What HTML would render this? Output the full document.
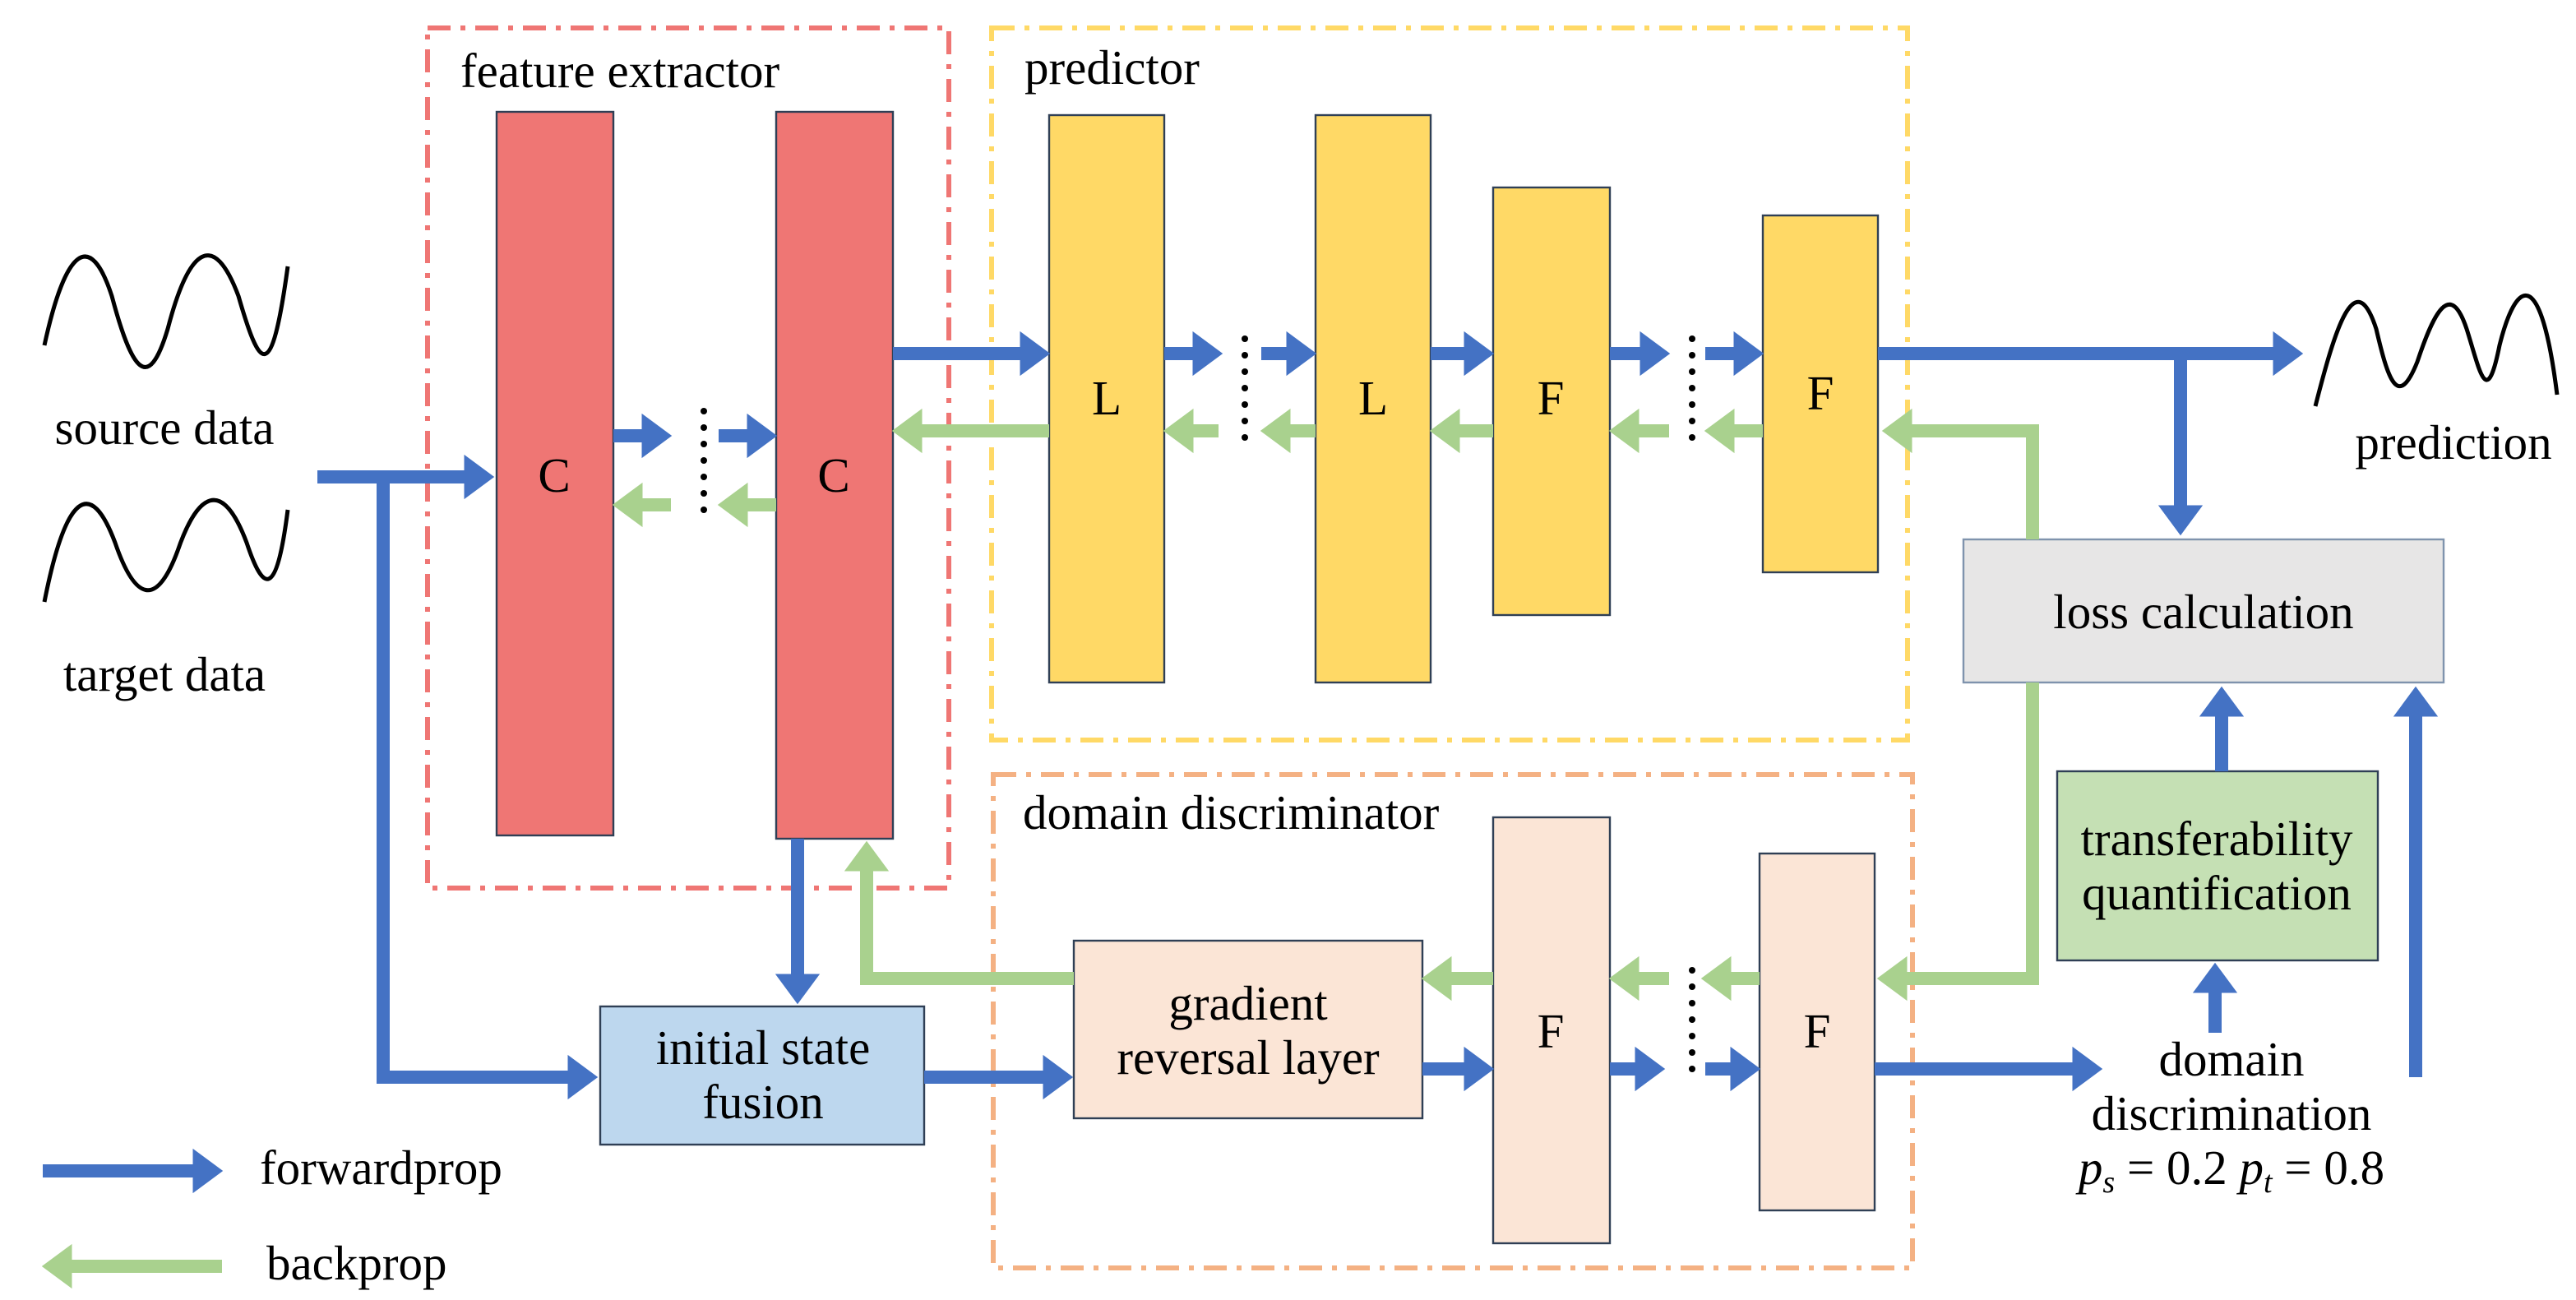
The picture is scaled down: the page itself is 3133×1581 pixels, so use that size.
<!DOCTYPE html>
<html><head><meta charset="utf-8"><style>
html,body{margin:0;padding:0;background:#fff;}
svg{display:block;}
text{font-family:"Liberation Serif",serif;font-size:29.5px;fill:#000;}
</style></head><body>
<svg width="3133" height="1581" viewBox="0 0 1566.5 790.5" xmlns="http://www.w3.org/2000/svg">
<defs>
<marker id="b" markerWidth="4" markerHeight="4" refX="0.6" refY="2" orient="auto" markerUnits="strokeWidth"><path d="M0,0.3 L2.3,2 L0,3.7 z" fill="#4472c4"/></marker>
<marker id="g" markerWidth="4" markerHeight="4" refX="0.6" refY="2" orient="auto" markerUnits="strokeWidth"><path d="M0,0.3 L2.3,2 L0,3.7 z" fill="#a9d18e"/></marker>
</defs>
<rect x="260" y="17" width="317" height="523" fill="none" stroke="#ef7674" stroke-width="3" stroke-dasharray="14,6,3,6"/>
<rect x="603" y="17" width="557" height="433" fill="none" stroke="#ffd966" stroke-width="3" stroke-dasharray="14,6,3,6"/>
<rect x="604" y="471" width="559" height="300" fill="none" stroke="#f4b183" stroke-width="3" stroke-dasharray="14,6,3,6"/>
<text x="280" y="53">feature extractor</text>
<text x="623" y="51">predictor</text>
<text x="622" y="504">domain discriminator</text>

<g stroke="#2f3f55" stroke-width="1.2">
<rect x="302" y="68" width="71" height="440" fill="#ef7674"/>
<rect x="472" y="68" width="71" height="442" fill="#ef7674"/>
<rect x="638" y="70" width="70" height="345" fill="#ffd966"/>
<rect x="800" y="70" width="70" height="345" fill="#ffd966"/>
<rect x="908" y="114" width="71" height="260" fill="#ffd966"/>
<rect x="1072" y="131" width="70" height="217" fill="#ffd966"/>
<rect x="653" y="572" width="212" height="108" fill="#fbe5d6"/>
<rect x="908" y="497" width="71" height="259" fill="#fbe5d6"/>
<rect x="1070" y="519" width="70" height="217" fill="#fbe5d6"/>
<rect x="365" y="612" width="197" height="84" fill="#bdd7ee"/>
<rect x="1194" y="328" width="292" height="87" fill="#e7e6e6" stroke="#7f93ad"/>
<rect x="1251" y="469" width="195" height="115" fill="#c5e0b4"/>
</g>
<g text-anchor="middle">
<text x="337" y="299">C</text><text x="507" y="299">C</text>
<text x="673" y="252">L</text><text x="835" y="252">L</text>
<text x="943" y="252">F</text><text x="1107" y="249">F</text>
<text x="943" y="637">F</text><text x="1105" y="637">F</text>
<text x="759" y="620">gradient</text><text x="759" y="653">reversal layer</text>
<text x="464" y="647">initial state</text><text x="464" y="680">fusion</text>
<text x="1340" y="382">loss calculation</text>
<text x="1348" y="520">transferability</text><text x="1348" y="553">quantification</text>
<text x="1357" y="654">domain</text><text x="1357" y="687">discrimination</text>
<text x="1357" y="720"><tspan font-style="italic">p</tspan><tspan font-style="italic" font-size="19" dy="5">s</tspan><tspan dy="-5"> = 0.2 </tspan><tspan font-style="italic">p</tspan><tspan font-style="italic" font-size="19" dy="5">t</tspan><tspan dy="-5"> = 0.8</tspan></text>
<text x="100" y="270">source data</text>
<text x="100" y="420">target data</text>
<text x="1492" y="279">prediction</text>
</g>
<text x="158" y="720">forwardprop</text>
<text x="162" y="778">backprop</text>

<g fill="none" stroke="#000" stroke-width="2.5">
<path d="M27,210 C40,150 55,140 68,180 C80,225 90,240 102,200 C115,150 130,140 145,180 C158,225 165,235 175,162"/>
<path d="M27,366 C40,300 55,290 70,330 C82,365 95,370 108,335 C120,300 135,290 150,330 C160,360 168,365 175,310"/>
<path d="M1408,247 C1420,200 1432,160 1445,200 C1452,230 1458,250 1470,220 C1480,190 1490,170 1500,200 C1508,225 1512,250 1520,210 C1530,170 1545,160 1555,240"/>
</g>

<g fill="#000">
<circle cx="428" cy="250" r="2"/><circle cx="428" cy="260" r="2"/><circle cx="428" cy="270" r="2"/><circle cx="428" cy="280" r="2"/><circle cx="428" cy="290" r="2"/><circle cx="428" cy="300" r="2"/><circle cx="428" cy="310" r="2"/>
<circle cx="757" cy="206" r="2"/><circle cx="757" cy="216" r="2"/><circle cx="757" cy="226" r="2"/><circle cx="757" cy="236" r="2"/><circle cx="757" cy="246" r="2"/><circle cx="757" cy="256" r="2"/><circle cx="757" cy="266" r="2"/>
<circle cx="1029" cy="206" r="2"/><circle cx="1029" cy="216" r="2"/><circle cx="1029" cy="226" r="2"/><circle cx="1029" cy="236" r="2"/><circle cx="1029" cy="246" r="2"/><circle cx="1029" cy="256" r="2"/><circle cx="1029" cy="266" r="2"/>
<circle cx="1029" cy="590" r="2"/><circle cx="1029" cy="600" r="2"/><circle cx="1029" cy="610" r="2"/><circle cx="1029" cy="620" r="2"/><circle cx="1029" cy="630" r="2"/><circle cx="1029" cy="640" r="2"/><circle cx="1029" cy="650" r="2"/>
</g>

<g fill="none" stroke="#4472c4" stroke-width="8" marker-end="url(#b)">
<path d="M193,290 H287"/>
<path d="M233,290 V655 H350"/>
<path d="M373,265 H395"/><path d="M437,265 H459"/>
<path d="M543,215 H625"/>
<path d="M708,215 H730"/><path d="M767,215 H787"/>
<path d="M870,215 H895"/>
<path d="M979,215 H1002"/><path d="M1037,215 H1059"/>
<path d="M1142,215 H1387"/>
<path d="M1326,215 V312"/>
<path d="M485,510 V597"/>
<path d="M562,655 H639"/>
<path d="M865,650 H895"/>
<path d="M979,650 H999"/><path d="M1037,650 H1057"/>
<path d="M1140,650 H1265"/>
<path d="M1469,655 V431"/>
<path d="M1351,469 V431"/>
<path d="M1347,628 V599"/>
<path d="M26,712 H122"/>
</g>
<g fill="none" stroke="#a9d18e" stroke-width="8" marker-end="url(#g)">
<path d="M408,307 H386"/><path d="M472,307 H450"/>
<path d="M638,262 H556"/>
<path d="M741,262 H721"/><path d="M800,262 H780"/>
<path d="M908,262 H883"/>
<path d="M1015,262 H992"/><path d="M1072,262 H1050"/>
<path d="M1236,328 V262 H1158"/>
<path d="M1236,415 V595 H1155"/>
<path d="M1070,595 H1048"/><path d="M1015,595 H992"/>
<path d="M908,595 H878"/>
<path d="M653,595 H527 V525"/>
<path d="M135,770 H39"/>
</g>
</svg>
</body></html>
